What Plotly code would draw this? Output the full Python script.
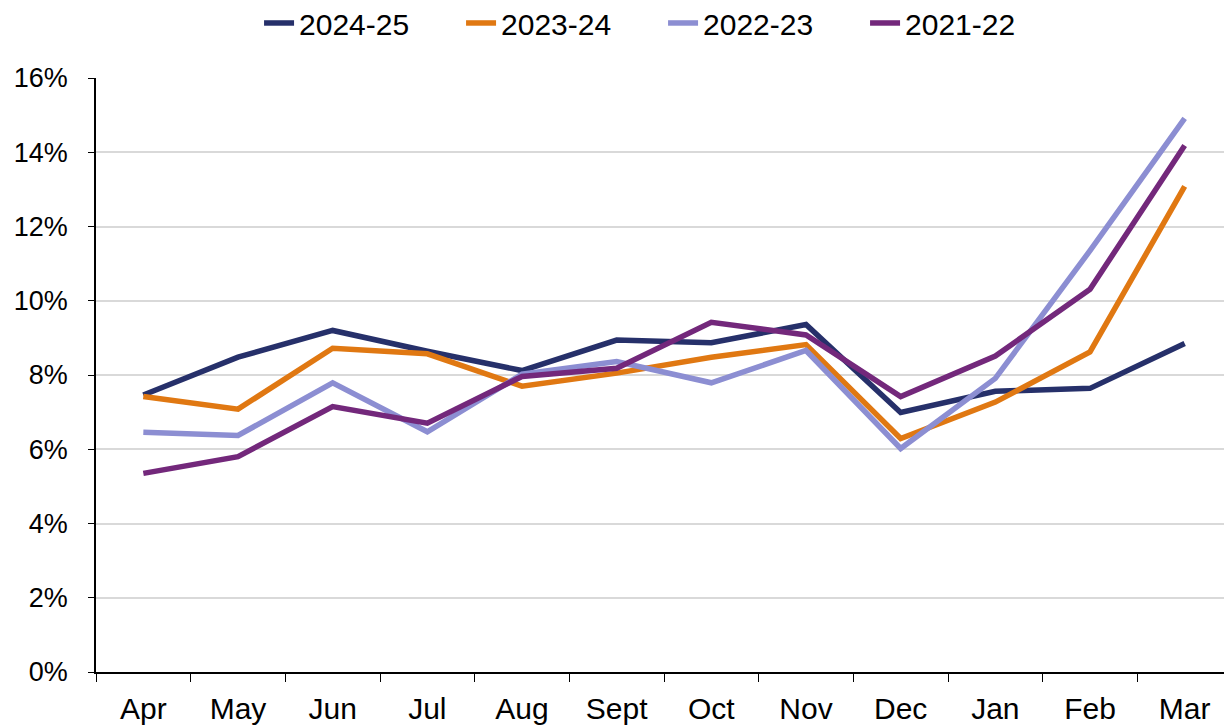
import plotly.graph_objects as go

months = ["Apr", "May", "Jun", "Jul", "Aug", "Sept", "Oct", "Nov", "Dec", "Jan", "Feb", "Mar"]
y2024_25 = [7.46, 8.48, 9.20, 8.64, 8.12, 8.94, 8.87, 9.36, 6.99, 7.56, 7.64, 8.85]
y2023_24 = [7.42, 7.08, 8.72, 8.57, 7.70, 8.05, 8.48, 8.82, 6.29, 7.27, 8.62, 13.08]
y2022_23 = [6.46, 6.37, 7.79, 6.47, 8.02, 8.36, 7.79, 8.66, 6.02, 7.91, 11.35, 14.91]
y2021_22 = [5.35, 5.80, 7.15, 6.70, 7.96, 8.18, 9.42, 9.08, 7.42, 8.51, 10.31, 14.18]

series = [
    ("2024-25", y2024_25, "#26306A"),
    ("2023-24", y2023_24, "#E07812"),
    ("2022-23", y2022_23, "#8C8ED2"),
    ("2021-22", y2021_22, "#73287B"),
]

fig = go.Figure()
for name, vals, color in series:
    fig.add_trace(go.Scatter(
        x=months, y=[v / 100 for v in vals], name=name, mode="lines",
        line=dict(color=color, width=5.5),
    ))

font = "Liberation Sans, Arial, sans-serif"
fig.update_layout(
    width=1232, height=727,
    margin=dict(l=88, r=8, t=70, b=63),
    paper_bgcolor="white", plot_bgcolor="white",
    font=dict(family=font, size=27, color="black"),
    showlegend=True,
    legend=dict(orientation="h", x=0.5317, xanchor="center", y=0.9794, yanchor="middle",
                yref="container", xref="container", font=dict(size=30), itemwidth=30,
                entrywidth=157, entrywidthmode="pixels",
                tracegroupgap=0, bgcolor="rgba(0,0,0,0)"),
    xaxis=dict(
        type="category", showgrid=False, showline=True, linecolor="black", linewidth=1.5,
        ticks="outside", tickson="boundaries", ticklen=8, tickcolor="black",
        tickfont=dict(size=30), range=[-0.5, 11.5], automargin=False,
        ticklabelstandoff=9,
    ),
    yaxis=dict(
        range=[0, 0.16], dtick=0.02, tickformat=".0%",
        showgrid=True, gridcolor="#D9D9D9", gridwidth=1.5,
        showline=True, linecolor="black", linewidth=1.5,
        ticks="outside", ticklen=6, tickcolor="black",
        tickfont=dict(size=27), zeroline=False, automargin=False,
        ticklabelstandoff=15,
    ),
)
fig.write_html("out.html")
